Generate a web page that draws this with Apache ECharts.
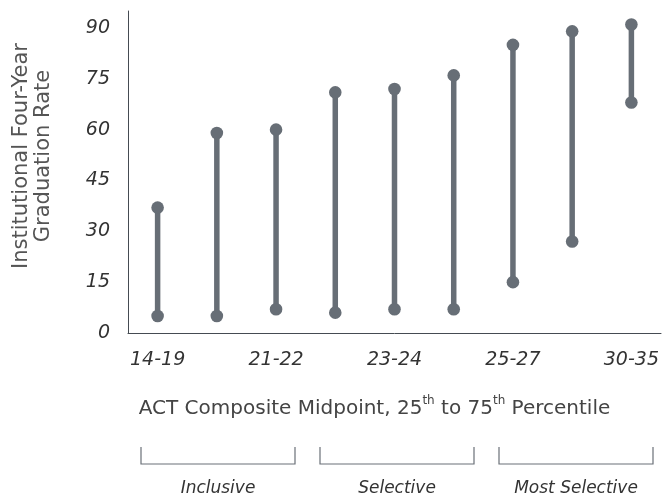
<!DOCTYPE html>
<html>
<head>
<meta charset="utf-8">
<script src="https://cdn.jsdelivr.net/npm/echarts@6/dist/echarts.min.js"></script>
<style>html,body{margin:0;padding:0;background:#fff;}#c{width:665px;height:500px;}</style>
</head>
<body>
<div id="c"></div>
<script>
const categories = ['14-19', '20-21', '21-22', '22-23', '23-24', '24-25', '25-27', '28-29', '30-35'];
const lowValues  = [5, 5, 7, 6, 7, 7, 15, 27, 68];
const highValues = [37, 59, 60, 71, 72, 76, 85, 89, 91];
const groupLabels = ['Inclusive', 'Selective', 'Most Selective'];
const yTitle = 'Institutional Four-Year\nGraduation Rate';

const FONT = '"DejaVu Sans", sans-serif';
const MARK = '#676e76';
const chart = echarts.init(document.getElementById('c'), null, {renderer: 'canvas'});

const data = categories.map((c, i) => [i, lowValues[i], highValues[i]]);

const bracketXs = [[141, 295], [320, 474], [499, 653]];
const graphics = [];
bracketXs.forEach((b, i) => {
  graphics.push({
    type: 'polyline', silent: true,
    shape: {points: [[b[0], 447], [b[0], 464], [b[1], 464], [b[1], 447]]},
    style: {stroke: '#6b7178', lineWidth: 1.2, fill: null}
  });
  graphics.push({
    type: 'text', silent: true,
    x: (b[0] + b[1]) / 2, y: 489,
    style: {text: groupLabels[i], fill: '#333', font: 'italic 17px ' + FONT, align: 'center', verticalAlign: 'middle'}
  });
});
graphics.push({
  type: 'text', silent: true, x: 33, y: 156, rotation: Math.PI / 2,
  style: {text: yTitle, fill: '#555', font: '21px ' + FONT, align: 'center', verticalAlign: 'middle', lineHeight: 22}
});

chart.setOption({
  animation: false,
  backgroundColor: '#fff',
  grid: {left: 128, right: 4, top: 11, bottom: 167, containLabel: false},
  xAxis: {
    type: 'category', data: categories, boundaryGap: true,
    axisLine: {lineStyle: {color: '#454b52', width: 1}},
    axisTick: {show: false},
    axisLabel: {interval: 1, margin: 18, color: '#333', fontStyle: 'italic', fontSize: 19, fontFamily: FONT},
    name: '{a|ACT Composite Midpoint, 25}{s|th}{a| to 75}{s|th}{a| Percentile}',
    nameLocation: 'middle', nameGap: 62,
    nameTextStyle: {
      padding: [0, 40, 0, 0],
      rich: {
        a: {fontSize: 20, fontFamily: FONT, color: '#444', lineHeight: 24, verticalAlign: 'bottom'},
        s: {fontSize: 12, fontFamily: FONT, color: '#444', lineHeight: 24, verticalAlign: 'top', padding: [0, 0, 9, 0]}
      }
    }
  },
  yAxis: {
    type: 'value', min: 0, max: 95, interval: 15,
    axisLine: {show: true, lineStyle: {color: '#454b52', width: 1}},
    axisTick: {show: false},
    splitLine: {show: false},
    axisLabel: {showMaxLabel: false, margin: 18, color: '#333', fontStyle: 'italic', fontSize: 19, fontFamily: FONT}
  },
  graphic: graphics,
  series: [{
    type: 'custom',
    data: data,
    renderItem: function (params, api) {
      const x = api.value(0);
      const lo = api.coord([x, api.value(1)]);
      const hi = api.coord([x, api.value(2)]);
      const r = 6.3;
      return {
        type: 'group',
        children: [
          {type: 'line', shape: {x1: lo[0], y1: lo[1], x2: hi[0], y2: hi[1]}, style: {stroke: MARK, lineWidth: 5.5}},
          {type: 'circle', shape: {cx: lo[0], cy: lo[1], r: r}, style: {fill: MARK}},
          {type: 'circle', shape: {cx: hi[0], cy: hi[1], r: r}, style: {fill: MARK}}
        ]
      };
    }
  }]
});
</script>
</body>
</html>
